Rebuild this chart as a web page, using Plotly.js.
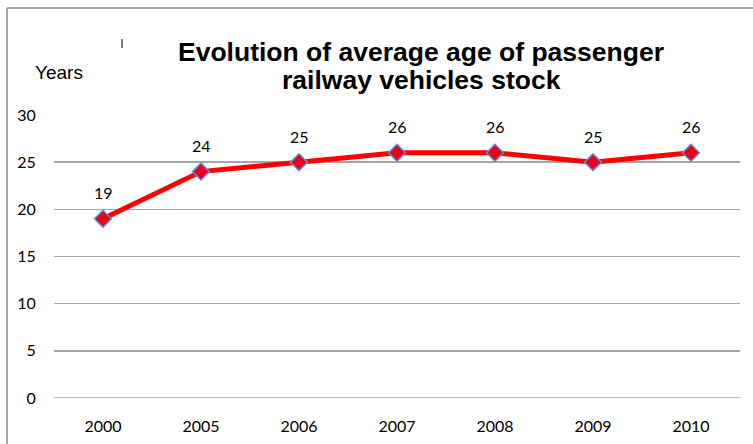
<!DOCTYPE html>
<html>
<head>
<meta charset="utf-8">
<script src="https://cdn.plot.ly/plotly-3.0.1.min.js"></script>
<style>html,body{margin:0;padding:0;background:#fff;}#chart{width:753px;height:444px;}</style>
</head>
<body>
<div id="chart"></div>
<script>
const years = ['2000', '2005', '2006', '2007', '2008', '2009', '2010'];
const avgAge = [19, 24, 25, 26, 26, 25, 26];
const yTicks = [0, 5, 10, 15, 20, 25, 30];
const titleLines = ['Evolution of average age of passenger', 'railway vehicles stock'];

const xIdx = years.map((_, i) => i);

const trace = {
  x: xIdx,
  y: avgAge,
  type: 'scatter',
  mode: 'lines+markers',
  line: {color: '#ff0000', width: 5},
  marker: {symbol: 'diamond', size: 13, color: '#e8001c', line: {color: '#5b8fd0', width: 1.5}},
  hoverinfo: 'y'
};

const labelFont = {family: 'Lato, "Noto Sans", sans-serif', size: 16, color: '#000'};

const labelAnnots = xIdx.map(i => ({
  x: i, y: avgAge[i], xref: 'x', yref: 'y',
  text: String(avgAge[i]), showarrow: false, yshift: 26,
  font: labelFont
}));

const titleAnnots = titleLines.map((t, i) => ({
  xref: 'paper', yref: 'paper', x: (421 - 54) / 686, y: (398 - (52 + 28 * i)) / 283,
  text: '<b>' + t + '</b>', showarrow: false, xanchor: 'center', yanchor: 'middle',
  font: {family: '"Liberation Sans", Arial, sans-serif', size: 26.5, color: '#000'}
}));

const layout = {
  width: 753, height: 444,
  margin: {l: 54, r: 13, t: 115, b: 46},
  paper_bgcolor: '#fff', plot_bgcolor: '#fff',
  showlegend: false,
  xaxis: {
    range: [-0.5, years.length - 0.5],
    tickvals: xIdx, ticktext: years,
    showgrid: false, zeroline: false, showline: false,
    ticks: 'outside', ticklen: 14, tickcolor: 'rgba(0,0,0,0)',
    tickfont: labelFont,
    fixedrange: true
  },
  yaxis: {
    range: [0, 30],
    tickvals: yTicks,
    showgrid: true, gridcolor: '#a6a6a6', gridwidth: 1.5,
    zeroline: false, showline: false,
    ticks: 'outside', ticklen: 14, tickcolor: 'rgba(0,0,0,0)',
    tickfont: labelFont,
    fixedrange: true
  },
  annotations: labelAnnots.concat(titleAnnots, [
    {xref: 'paper', yref: 'paper', x: (59 - 54) / 686, y: (398 - 72) / 283,
     text: 'Years', showarrow: false, xanchor: 'center', yanchor: 'middle',
     font: {family: '"Liberation Sans", Arial, sans-serif', size: 19, color: '#000'}}
  ]),
  shapes: [
    {type: 'line', xref: 'paper', yref: 'paper', x0: (7 - 54) / 686, x1: (7 - 54) / 686,
     y0: (398 - 450) / 283, y1: (398 - 8) / 283, line: {color: '#a6a6a6', width: 2}},
    {type: 'line', xref: 'paper', yref: 'paper', x0: (7 - 54) / 686, x1: (760 - 54) / 686,
     y0: (398 - 8) / 283, y1: (398 - 8) / 283, line: {color: '#a6a6a6', width: 2}},
    {type: 'line', xref: 'paper', yref: 'paper', x0: (122 - 54) / 686, x1: (122 - 54) / 686,
     y0: (398 - 39) / 283, y1: (398 - 48) / 283, line: {color: '#000', width: 1}},
    {type: 'line', xref: 'paper', yref: 'y', x0: 0, x1: 1, y0: 0, y1: 0,
     line: {color: '#a6a6a6', width: 1.5}, layer: 'below'}
  ]
};

Plotly.newPlot('chart', [trace], layout, {displayModeBar: false, staticPlot: true});
</script>
</body>
</html>
